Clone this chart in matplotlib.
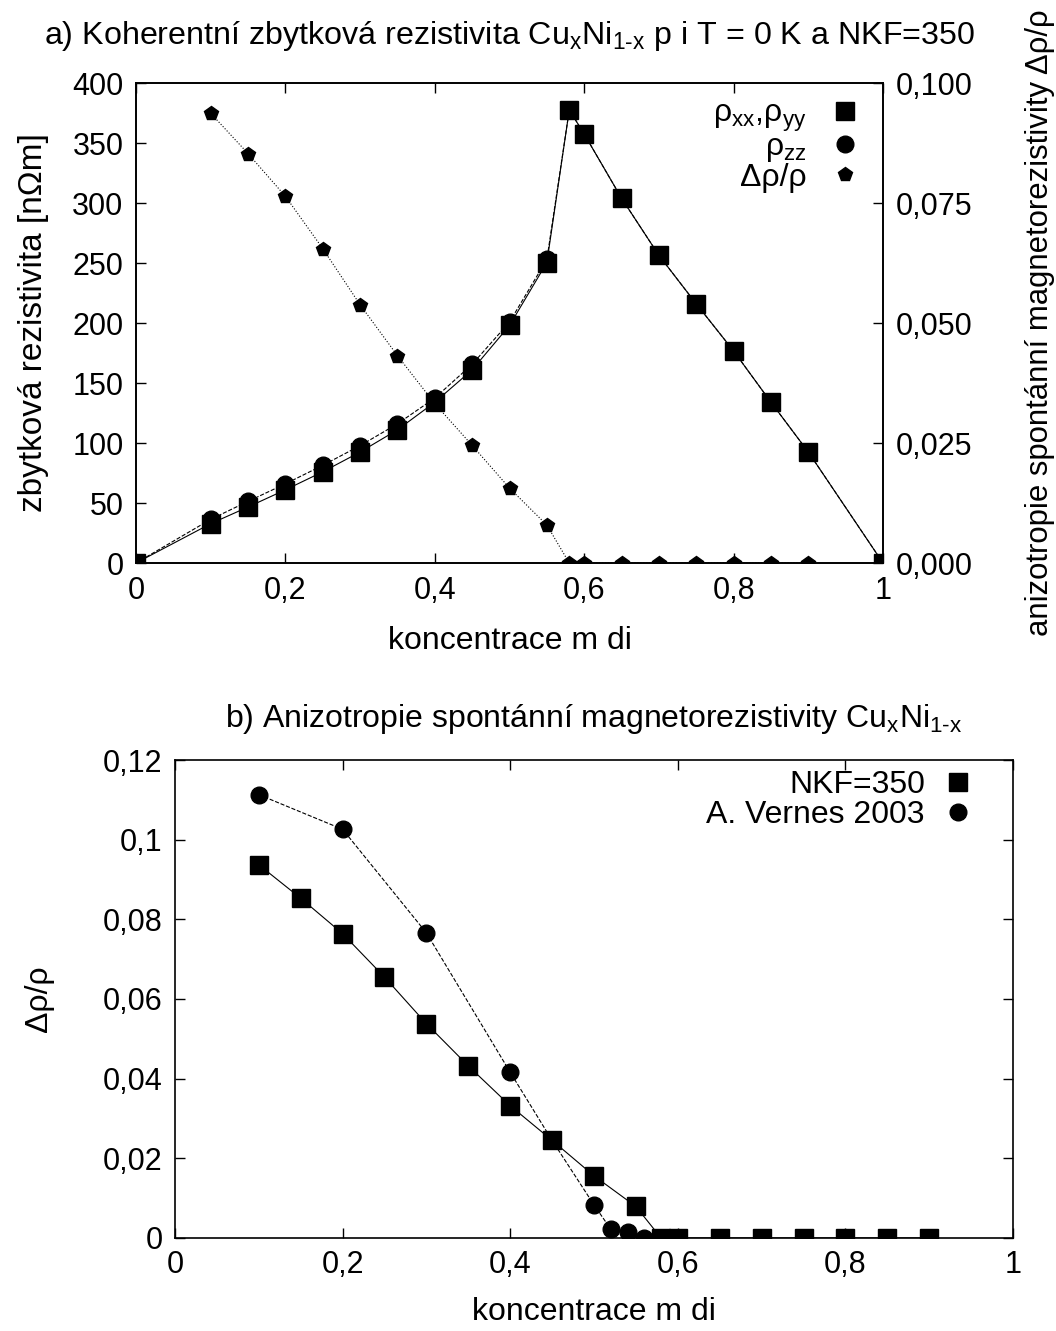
import matplotlib
matplotlib.use('Agg')
import matplotlib.pyplot as plt
from matplotlib.lines import Line2D
from matplotlib.ticker import FuncFormatter, MultipleLocator

plt.rcParams['font.family'] = ['Liberation Sans', 'DejaVu Sans']
plt.rcParams['mathtext.fontset'] = 'custom'
plt.rcParams['mathtext.rm'] = 'Liberation Sans'
plt.rcParams['mathtext.it'] = 'Liberation Sans:italic'
plt.rcParams['font.size'] = 22

# a) rezistivita
x_rho = [0, 0.1, 0.15, 0.2, 0.25, 0.3, 0.35, 0.4, 0.45, 0.5, 0.55, 0.58,
         0.6, 0.65, 0.7, 0.75, 0.8, 0.85, 0.9, 1.0]
rho_xx = [0, 32.8, 46.7, 61, 76, 92.5, 111, 134, 161, 198, 250.4, 377.6,
          357.5, 304, 256.4, 216, 176.7, 134, 92.5, 0]
rho_zz = [0, 36.4, 51.4, 66, 81.4, 97.8, 116, 137.5, 165.6, 200.8, 253, 377.6,
          357.5, 304, 256.4, 216, 176.7, 134, 92.5, 0]

# anizotropie (NKF=350)
x_aniz = [0.1, 0.15, 0.2, 0.25, 0.3, 0.35, 0.4, 0.45, 0.5, 0.55, 0.58,
          0.6, 0.65, 0.7, 0.75, 0.8, 0.85, 0.9]
aniz = [0.0937, 0.0853, 0.0764, 0.0655, 0.0538, 0.0432, 0.0332, 0.0245,
        0.0156, 0.0079, 0, 0, 0, 0, 0, 0, 0, 0]

# A. Vernes 2003
x_vernes = [0.1, 0.2, 0.3, 0.4, 0.45, 0.5, 0.52, 0.54, 0.56]
vernes = [0.1113, 0.1026, 0.0766, 0.0416, 0.0245, 0.0083, 0.0022, 0.0016, 0.0]

comma = FuncFormatter(lambda v, p: f"{v:g}".replace('.', ','))
comma3 = FuncFormatter(lambda v, p: f"{v:.3f}".replace('.', ','))

fig = plt.figure(figsize=(10.56, 13.31), dpi=100)

def style(ax):
    ax.tick_params(direction='in', length=7, width=1, pad=9, top=True)
    for s in ax.spines.values():
        s.set_linewidth(1.2)

# ---- a) ----
ax1 = fig.add_axes([0.1288, 0.577, 0.7074, 0.3606])
ax2 = ax1.twinx()
ax1.plot(x_rho, rho_zz, 'k--', lw=0.8, marker='o', ms=12, zorder=3)
ax1.plot(x_rho, rho_xx, 'k-', lw=0.8, marker='s', ms=13, zorder=4)
ax2.plot(x_aniz, aniz, 'k:', lw=0.8, marker='p', ms=10)
ax1.set_xlim(0, 1)
ax1.set_ylim(0, 400)
ax2.set_ylim(0, 0.1)
ax1.xaxis.set_major_locator(MultipleLocator(0.2))
ax1.yaxis.set_major_locator(MultipleLocator(50))
ax2.yaxis.set_major_locator(MultipleLocator(0.025))
ax1.xaxis.set_major_formatter(comma)
ax2.yaxis.set_major_formatter(comma3)
style(ax1)
style(ax2)
ax1.tick_params(right=False)
ax1.set_xlabel('koncentrace m di', fontsize=23, labelpad=15)
ax1.set_ylabel('zbytková rezistivita [nΩm]', fontsize=24, labelpad=17)
ax2.set_ylabel('anizotropie spontánní magnetorezistivity Δρ/ρ', fontsize=22.4, labelpad=38)
ax1.set_title(r'a) Koherentní zbytková rezistivita Cu$_\mathrm{x}$Ni$_\mathrm{1\text{-}x}$ p i T = 0 K a NKF=350',
              fontsize=23.2, pad=28)

h1 = [Line2D([], [], color='k', ls='none', marker='s', ms=13),
      Line2D([], [], color='k', ls='none', marker='o', ms=12),
      Line2D([], [], color='k', ls='none', marker='p', ms=10)]
leg1 = ax1.legend(h1, [r'ρ$_\mathrm{xx}$,ρ$_\mathrm{yy}$', r'ρ$_\mathrm{zz}$', 'Δρ/ρ'],
                  loc='upper right', bbox_to_anchor=(0.992, 0.994), borderaxespad=0,
                  frameon=False, markerfirst=False, fontsize=23,
                  handlelength=1.2, handletextpad=0.6, labelspacing=-0.05)
for col in leg1._legend_handle_box.get_children():
    col.align = 'right'

# ---- b) ----
ax3 = fig.add_axes([0.1657, 0.0699, 0.7936, 0.3591])
ax3.plot(x_vernes, vernes, 'k--', lw=0.8, marker='o', ms=12)
ax3.plot(x_aniz, aniz, 'k-', lw=0.8, marker='s', ms=13)
ax3.set_xlim(0, 1)
ax3.set_ylim(0, 0.12)
ax3.xaxis.set_major_locator(MultipleLocator(0.2))
ax3.yaxis.set_major_locator(MultipleLocator(0.02))
ax3.xaxis.set_major_formatter(comma)
ax3.yaxis.set_major_formatter(comma)
style(ax3)
ax3.tick_params(right=True)
ax3.set_xlabel('koncentrace m di', fontsize=23, labelpad=12)
ax3.set_ylabel('Δρ/ρ', fontsize=23, labelpad=35)
ax3.set_title(r'b) Anizotropie spontánní magnetorezistivity Cu$_\mathrm{x}$Ni$_\mathrm{1\text{-}x}$',
              fontsize=23, pad=24)

h3 = [Line2D([], [], color='k', ls='none', marker='s', ms=13),
      Line2D([], [], color='k', ls='none', marker='o', ms=12)]
leg3 = ax3.legend(h3, ['NKF=350', 'A. Vernes 2003'],
                  loc='upper right', bbox_to_anchor=(0.9726, 1.006), borderaxespad=0,
                  frameon=False, markerfirst=False, fontsize=23,
                  handlelength=1.2, handletextpad=0.44, labelspacing=0.0)
for col in leg3._legend_handle_box.get_children():
    col.align = 'right'

fig.savefig('out.png', dpi=100)
